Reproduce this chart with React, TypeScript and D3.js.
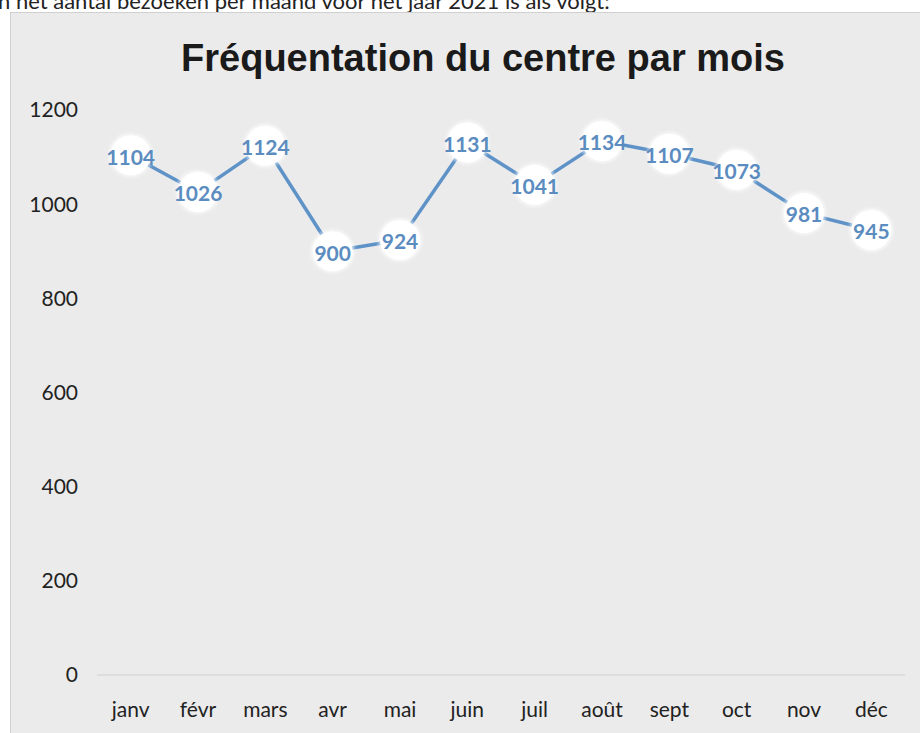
import React from 'react';
import * as d3 from 'd3';

const months = ['janv', 'févr', 'mars', 'avr', 'mai', 'juin', 'juil', 'août', 'sept', 'oct', 'nov', 'déc'];
const visits = [1104, 1026, 1124, 900, 924, 1131, 1041, 1134, 1107, 1073, 981, 945];
const yTicks = [0, 200, 400, 600, 800, 1000, 1200];

const W = 920, H = 733;
const margin = { top: 110, right: 15, bottom: 58, left: 97 };

export default function App() {
  const x = d3.scaleBand().domain(months).range([margin.left, W - margin.right]);
  const y = d3.scaleLinear().domain([0, 1200]).range([H - margin.bottom, margin.top]);
  const line = d3.line<number>()
    .x((_, i) => x(months[i])! + x.bandwidth() / 2)
    .y(d => y(d));
  const labelFont = 'Lato, "Open Sans", sans-serif';

  return (
    <div style={{ position: 'fixed', left: 0, top: 0 }}>
      <svg width={W} height={H} style={{ display: 'block', background: '#fff' }}>
        <defs>
          <filter id="glow" x="-50%" y="-50%" width="200%" height="200%">
            <feGaussianBlur stdDeviation="1.5" />
          </filter>
        </defs>
        <text x={-2} y={9} fontFamily={labelFont} fontSize={22} fill="#222">
          n het aantal bezoeken per maand voor het jaar 2021 is als volgt:
        </text>
        <rect x={10.5} y={12.5} width={W + 5} height={H} fill="#ebebeb" stroke="#d0d0d0" />
        <text x={483} y={71} textAnchor="middle" fontFamily="Arial, 'Liberation Sans', sans-serif"
          fontWeight="bold" fontSize={38} fill="#1a1a1a">
          Fréquentation du centre par mois
        </text>
        {/* y axis labels */}
        {yTicks.map(t => (
          <text key={t} x={78} y={y(t)} dy="0.35em" textAnchor="end" fontFamily={labelFont}
            fontSize={21} fill="#222">{t}</text>
        ))}
        <line x1={margin.left} x2={W - margin.right} y1={y(0)} y2={y(0)} stroke="#d9d9d9" strokeWidth={1.5} />
        {months.map(m => (
          <text key={m} x={x(m)! + x.bandwidth() / 2} y={y(0) + 42} textAnchor="middle"
            fontFamily={labelFont} fontSize={21} fill="#222">{m}</text>
        ))}
        <path d={line(visits) ?? ''} fill="none" stroke="#5f93c8" strokeWidth={3.5} strokeLinejoin="round" />
        {visits.map((v, i) => {
          const cx = x(months[i])! + x.bandwidth() / 2;
          return (
            <g key={i}>
              <circle cx={cx} cy={y(v)} r={22} fill="#fff" opacity={0.6} filter="url(#glow)" />
              <circle cx={cx} cy={y(v)} r={20} fill="#fff" />
              <text x={cx} y={y(v) + 2} dy="0.35em" textAnchor="middle" fontFamily={labelFont}
                fontWeight="bold" fontSize={21} fill="#5b8cc0">{v}</text>
            </g>
          );
        })}
      </svg>
    </div>
  );
}
